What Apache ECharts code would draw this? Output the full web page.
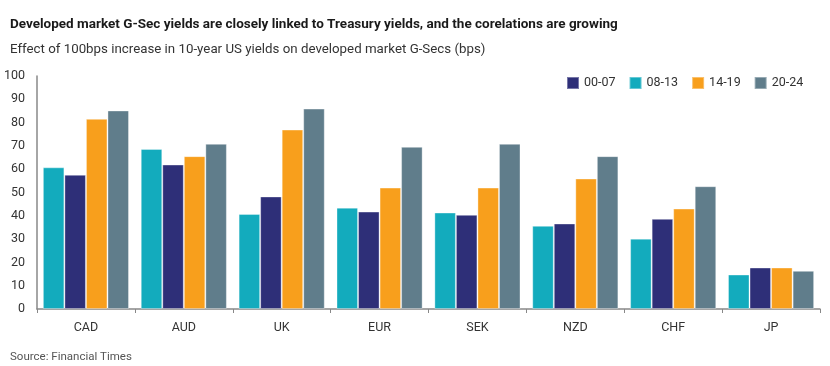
<!DOCTYPE html>
<html>
<head>
<meta charset="utf-8">
<script src="https://cdn.jsdelivr.net/npm/echarts@6/dist/echarts.min.js"></script>
<style>
html,body{margin:0;padding:0;background:#fff;}
#chart{width:830px;height:366px;}
</style>
</head>
<body>
<div id="chart"></div>
<script>
const categories = ['CAD','AUD','UK','EUR','SEK','NZD','CHF','JP'];
const s0007 = [57.6, 62.0, 48.3, 41.8, 40.4, 36.7, 38.7, 17.8];
const s0813 = [60.8, 68.7, 40.8, 43.5, 41.4, 35.7, 30.2, 14.8];
const s1419 = [81.6, 65.6, 77.0, 52.1, 52.1, 56.0, 43.1, 17.8];
const s2024 = [85.2, 70.9, 86.0, 69.6, 70.9, 65.6, 52.7, 16.4];
const legendNames = ['00-07','08-13','14-19','20-24'];

const FONT = '"Roboto", "DejaVu Sans Condensed", sans-serif';
const chart = echarts.init(document.getElementById('chart'));
const bar = (name, data, color) => ({
  name, type: 'bar', data,
  barGap: '0%', barCategoryGap: '12%',
  itemStyle: { color, borderColor: 'rgba(255,255,255,0.35)', borderWidth: 1 },
  animation: false
});
chart.setOption({
  animation: false,
  textStyle: { fontFamily: FONT },
  title: [
    { text: 'Developed market G-Sec yields are closely linked to Treasury yields, and the corelations are growing',
      left: 5, top: 13, textStyle: { fontFamily: FONT, fontSize: 13.5, fontWeight: 'bold', color: '#1a1a1a' } },
    { text: 'Effect of 100bps increase in 10-year US yields on developed market G-Secs (bps)',
      left: 5, top: 38, textStyle: { fontFamily: FONT, fontSize: 13.3, fontWeight: 'normal', color: '#333' } },
    { text: 'Source: Financial Times', left: 5, top: 346,
      textStyle: { fontFamily: FONT, fontSize: 11.5, fontWeight: 'normal', color: '#555' } }
  ],
  legend: {
    data: legendNames, left: 561, top: 71, itemWidth: 12, itemHeight: 12, itemGap: 13,
    icon: 'rect',
    textStyle: { fontFamily: FONT, fontSize: 12.5, color: '#333' }
  },
  grid: { left: 37, right: 10, top: 76, bottom: 57 },
  xAxis: {
    type: 'category', data: categories,
    axisLine: { lineStyle: { color: '#888', width: 1.5 } },
    axisTick: { show: true, length: 4, lineStyle: { color: '#888' } },
    axisLabel: { fontFamily: FONT, fontSize: 12.5, color: '#333', margin: 12 }
  },
  yAxis: {
    type: 'value', min: 0, max: 100, interval: 10,
    axisLine: { show: true, lineStyle: { color: '#888', width: 1.5 } },
    axisTick: { show: false },
    splitLine: { show: false },
    axisLabel: { fontFamily: FONT, fontSize: 12.5, color: '#333', margin: 12 }
  },
  series: [
    bar('08-13', s0813, '#13ABBD'),
    bar('00-07', s0007, '#2E2F78'),
    bar('14-19', s1419, '#F89F1C'),
    bar('20-24', s2024, '#607D8B')
  ]
});
</script>
</body>
</html>
